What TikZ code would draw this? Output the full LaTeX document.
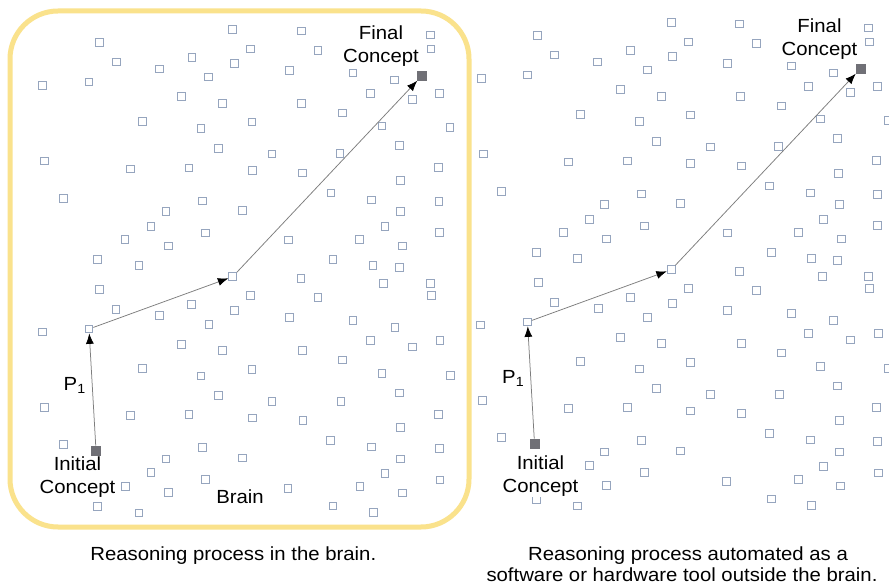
\documentclass[tikz,border=0pt]{standalone}
\usepackage{fontspec}
\setmainfont[FakeStretch=1.07]{Liberation Sans}
\usetikzlibrary{arrows.meta}
\definecolor{boxyellow}{RGB}{250,226,140}
\definecolor{sqblue}{RGB}{150,165,190}
\definecolor{darksq}{RGB}{112,112,118}
\definecolor{lineg}{RGB}{125,125,125}
\def\sqlist{232.7/29.3, 99.3/42.7, 116.3/62, 159.3/69, 192/57.3, 234.3/63.7, 42.7/85.3, 89/82, 208.7/77, 181.7/96.7, 222.7/103.3, 142.3/121.3, 201/128.7, 218.3/148.3, 44.7/161, 130.3/169, 189/168, 63.3/198.7, 202.7/201, 166/211.7, 242.3/210.5, 151/226.3, 205.7/233, 125/239.7, 168.3/246, 97.7/259.5, 139/265.5, 301.3/31, 430.3/35, 431/49, 250.3/49, 318/50.7, 289.3/70.3, 353/73, 394.7/80, 370.3/93.7, 412.3/99.3, 439.3/93.7, 301.7/103.7, 342.7/113, 252/122, 382/126, 450/127.7, 399.3/145.7, 272/154, 340/153.7, 252.3/170.7, 302.7/173, 438.3/167.3, 400.3/180.3, 331/193, 371.7/200, 439/201.3, 400.7/211.3, 385/226.3, 439.3/232.3, 288.7/240, 359.7/239.3, 402.7/246, 333/259.5, 373/265.5, 399.3/267.3, 99.7/289.7, 116/309.3, 159.7/315.7, 191.7/304.3, 234.3/310.7, 42.3/332, 209/324.3, 181.7/344.3, 222.7/350.3, 142.3/368.3, 201/376, 218.3/395.7, 44.3/407.7, 130.3/415.7, 189/414.7, 63.3/444.3, 202.7/447.3, 166/459, 242.3/458, 151/472.7, 205.7/479.7, 125.3/486.7, 168.3/492.7, 97.7/506.3, 139/513, 301/278.7, 383.7/283.3, 430.3/283.3, 431.3/295.7, 250.3/295.7, 318/297.7, 289.3/317.7, 353/320.7, 395/327.3, 370.3/340.3, 412.3/347, 440/340.3, 302.7/350.3, 342.7/360, 252/369.7, 382/373.3, 450.3/375.3, 399.3/393, 272/401.3, 341/401.3, 252.3/418, 303/420.7, 438.3/414.3, 400.7/427.7, 330.7/440.7, 371.7/447, 439.3/448.7, 400.7/459, 385/473.3, 440/480, 288/488.3, 360/486.7, 402.3/493, 333/506, 373.3/512.3}
\begin{document}
\begin{tikzpicture}[x=1pt,y=-1pt,
  sq/.style={draw=sqblue,line width=0.9pt,minimum size=7.8pt,inner sep=0pt,fill=white},
  keysq/.style={draw=darksq,fill=darksq,minimum size=9pt,inner sep=0pt},
  lbl/.style={font=\fontsize{19}{23}\selectfont,align=center,inner sep=0.5pt,fill=white},
  captext/.style={font=\fontsize{19}{23}\selectfont,align=center,inner sep=0pt},
  conn/.style={draw=lineg,line width=0.75pt,-{Latex[length=10.5pt,width=8pt,black]}}]
\useasboundingbox (0,0) rectangle (889,585);
\fill[white] (0,0) rectangle (889,585);
% brain box
\draw[boxyellow,line width=5pt,rounded corners=48pt] (10,11) rectangle (469,527);
% left panel
\foreach \a/\b [count=\i] in \sqlist { \node[sq] (l\i) at (\a,\b) {}; }
\node[keysq] (initL) at (96,450.3) {};
\node[sq] (p1L) at (89,329) {};
\node[sq] (midL) at (232.7,276.7) {};
\node[keysq] (finL) at (421.7,76) {};
\draw[conn] (initL) -- (p1L);
\draw[conn] (p1L) -- (midL);
\draw[conn] (midL) -- (finL);
\node[lbl] (finLt) at (381,45.9) {Final\\Concept};
\node[lbl] (initLt) at (77.5,477.3) {Initial\\Concept};
\node[lbl,anchor=base west] (p1Lt) at (63,390) {P\textsubscript{1}};
\node[lbl,anchor=base] (brainL) at (240,503.3) {Brain};
% right panel
\begin{scope}[shift={(438.5,-7)}]
\foreach \a/\b [count=\i] in \sqlist { \node[sq] (r\i) at (\a,\b) {}; }
\node[keysq] (initR) at (96,450.3) {};
\node[sq] (p1R) at (89,329) {};
\node[sq] (midR) at (232.7,276.7) {};
\node[keysq] (finR) at (421.7,76) {};
\draw[conn] (initR) -- (p1R);
\draw[conn] (p1R) -- (midR);
\draw[conn] (midR) -- (finR);
\node[lbl] (finRt) at (381,45.9) {Final\\Concept};
\node[lbl,anchor=base west] (p1Rt) at (63,390) {P\textsubscript{1}};
\end{scope}
\node[lbl] (initRt) at (540.5,475.9) {Initial\\Concept};
% captions
\node[captext,anchor=base] (cap1) at (233.3,560) {Reasoning process in the brain.};
\node[captext,anchor=base] (cap2a) at (688,560) {Reasoning process automated as a};
\node[captext,anchor=base] (cap2b) at (682,581.5) {software or hardware tool outside the brain.};
\end{tikzpicture}
\end{document}
